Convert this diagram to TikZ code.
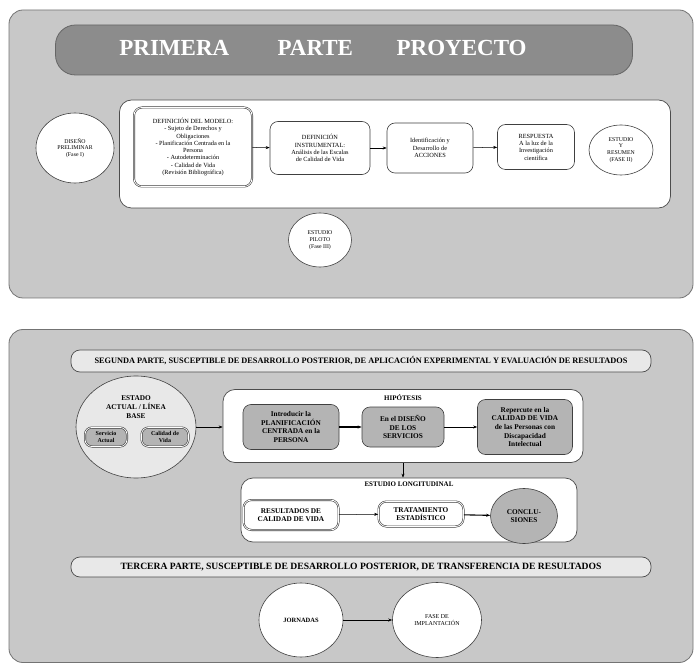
\documentclass[tikz,border=0pt]{standalone}
\usepackage{fontspec}
\setmainfont{Liberation Serif}
\usetikzlibrary{arrows.meta,positioning,shapes.geometric}

\definecolor{panelgray}{HTML}{C8C8C8}
\definecolor{titlegray}{HTML}{8C8C8C}
\definecolor{boxgray}{HTML}{B4B4B4}
\definecolor{softgray}{HTML}{E8E8E8}

\begin{document}
\begin{tikzpicture}[
  x=1pt, y=-1pt,
  panel/.style={draw=black!55, line width=0.8pt, rounded corners=14pt, fill=panelgray, inner sep=0pt},
  area/.style={draw=black!70, line width=0.7pt, rounded corners=12pt, fill=white, inner sep=0pt},
  stage/.style={draw=black!75, line width=0.6pt, rounded corners=8pt, fill=white, align=center, font=\fontsize{6.3}{7.3}\selectfont, inner sep=1pt},
  phase/.style={draw=black!75, ellipse, line width=0.6pt, fill=white, align=center, font=\fontsize{5.8}{6.8}\selectfont, inner sep=0pt},
  band/.style={draw=black!70, line width=0.7pt, rounded corners=9pt, fill=softgray, inner sep=0pt, minimum width=580pt},
  hyp/.style={stage, fill=boxgray, font=\bfseries\fontsize{7.3}{8.7}\selectfont},
  twin/.style={stage, double, double distance=0.8pt},
  trans/.style={-{Stealth[length=4pt]}, line width=0.5pt},
]
  \useasboundingbox (0,0) rectangle (699,668);

  % Primera parte
  \node[panel, minimum width=684pt, minimum height=288pt] (first) at (351,154) {};
  \node[draw=black!60, line width=0.8pt, rounded corners=20pt, fill=titlegray, minimum width=577pt, minimum height=50pt] (title) at (344,50) {};
  \node[text=white, font=\bfseries\fontsize{23}{25}\selectfont] (titletxt) at (323,48)
        {PRIMERA\hspace{2.1em}PARTE\hspace{1.9em}PROYECTO};
  \node[area, minimum width=551pt, minimum height=108pt] (model) at (395,154) {};

  \node[phase, minimum width=78pt, minimum height=70pt] (diseno) at (75,148) {DISEÑO\\PRELIMINAR\\(Fase I)};
  \node[twin, minimum width=118pt, minimum height=79pt] (defmod) at (193,147) {DEFINICIÓN DEL MODELO:\\- Sujeto de Derechos y\\Obligaciones\\- Planificación Centrada en la\\Persona\\- Autodeterminación\\- Calidad de Vida\\(Revisión Bibliográfica)};
  \node[stage, minimum width=100pt, minimum height=53pt] (definst) at (320,148) {DEFINICIÓN\\INSTRUMENTAL:\\Análisis de las Escalas\\de Calidad de Vida};
  \node[stage, minimum width=86pt, minimum height=50pt] (acciones) at (430,148) {Identificación y\\Desarrollo de\\ACCIONES};
  \node[stage, minimum width=77pt, minimum height=45pt] (respuesta) at (536,147) {RESPUESTA\\A la luz de la\\Investigación\\científica};
  \node[phase, minimum width=64pt, minimum height=50pt] (resumen) at (621,150) {ESTUDIO\\Y\\RESUMEN\\(FASE II)};
  \node[phase, minimum width=63pt, minimum height=54pt] (piloto) at (320,240) {ESTUDIO\\PILOTO\\(Fase III)};

  \draw[trans] (defmod) -- (definst);
  \draw[trans] (definst) -- (acciones);
  \draw[trans] (acciones) -- (respuesta);

  % Segunda y tercera parte
  \node[panel, minimum width=684pt, minimum height=333pt] (second) at (351,496) {};
  \node[band, minimum height=22pt, font=\bfseries\fontsize{8.3}{9}\selectfont] (segunda) at (361,361) {SEGUNDA PARTE, SUSCEPTIBLE DE DESARROLLO POSTERIOR, DE APLICACIÓN EXPERIMENTAL Y EVALUACIÓN DE RESULTADOS};

  \node[phase, fill=softgray, minimum width=120pt, minimum height=102pt] (estado) at (136,427) {};
  \node[font=\bfseries\fontsize{7.3}{8.7}\selectfont, align=center] (estadotxt) at (136,407) {ESTADO\\ACTUAL / LÍNEA\\BASE};
  \node[twin, fill=boxgray, rounded corners=7pt, minimum width=42pt, minimum height=19pt, font=\bfseries\fontsize{6}{7}\selectfont] (servicio) at (106,437) {Servicio\\Actual};
  \node[twin, fill=boxgray, rounded corners=7pt, minimum width=47pt, minimum height=19pt, font=\bfseries\fontsize{6}{7}\selectfont] (calidad) at (165,437) {Calidad de\\Vida};

  \node[area, minimum width=360pt, minimum height=73pt] (hipotesis) at (403,426) {};
  \node[font=\bfseries\fontsize{7}{8}\selectfont, below=2pt of hipotesis.north] (hiptitle) {HIPÓTESIS};
  \node[hyp, minimum width=96pt, minimum height=45pt] (pcp) at (291,427) {Introducir la\\PLANIFICACIÓN\\CENTRADA en la\\PERSONA};
  \node[hyp, minimum width=82pt, minimum height=40pt] (diseserv) at (403,427) {En el DISEÑO\\DE LOS\\SERVICIOS};
  \node[hyp, minimum width=95pt, minimum height=55pt] (repercute) at (525,427) {Repercute en la\\CALIDAD DE VIDA\\de las Personas con\\Discapacidad\\Intelectual};

  \draw[trans] (estado) -- (estado.east -| hipotesis.west);
  \draw[trans, line width=1.1pt] (pcp) -- (diseserv);
  \draw[trans] (diseserv) -- (repercute);

  \node[area, minimum width=336pt, minimum height=64pt] (longitudinal) at (409,510) {};
  \node[font=\bfseries\fontsize{7}{8}\selectfont, below=1pt of longitudinal.north] (longtitle) {ESTUDIO LONGITUDINAL};
  \node[twin, font=\bfseries\fontsize{7.3}{8.7}\selectfont, minimum width=95pt, minimum height=30pt] (resultados) at (291,515) {RESULTADOS DE\\CALIDAD DE VIDA};
  \node[twin, font=\bfseries\fontsize{7.3}{8.7}\selectfont, minimum width=85pt, minimum height=25pt] (estadistico) at (421,514) {TRATAMIENTO\\ESTADÍSTICO};
  \node[phase, fill=boxgray, font=\bfseries\fontsize{7.3}{8.7}\selectfont, minimum width=67pt, minimum height=55pt] (conclusiones) at (524,516) {CONCLU-\\SIONES};

  \draw[trans] (hipotesis.south) -- (hipotesis.south |- longitudinal.north);
  \draw[trans] (resultados) -- (estadistico);
  \draw[trans, line width=1.1pt] (estadistico) -- (conclusiones);

  \node[band, minimum height=20pt, font=\bfseries\fontsize{9.6}{10}\selectfont] (tercera) at (361,567) {TERCERA PARTE, SUSCEPTIBLE DE DESARROLLO POSTERIOR, DE TRANSFERENCIA DE RESULTADOS};
  \node[phase, font=\bfseries\fontsize{6.5}{7.5}\selectfont, minimum width=84pt, minimum height=74pt] (jornadas) at (301,620) {JORNADAS};
  \node[phase, font=\fontsize{6}{7}\selectfont, minimum width=89pt, minimum height=75pt] (implanta) at (437,620) {FASE DE\\IMPLANTACIÓN};

  \draw[trans, line width=0.8pt] (jornadas) -- (implanta);
\end{tikzpicture}
\end{document}
